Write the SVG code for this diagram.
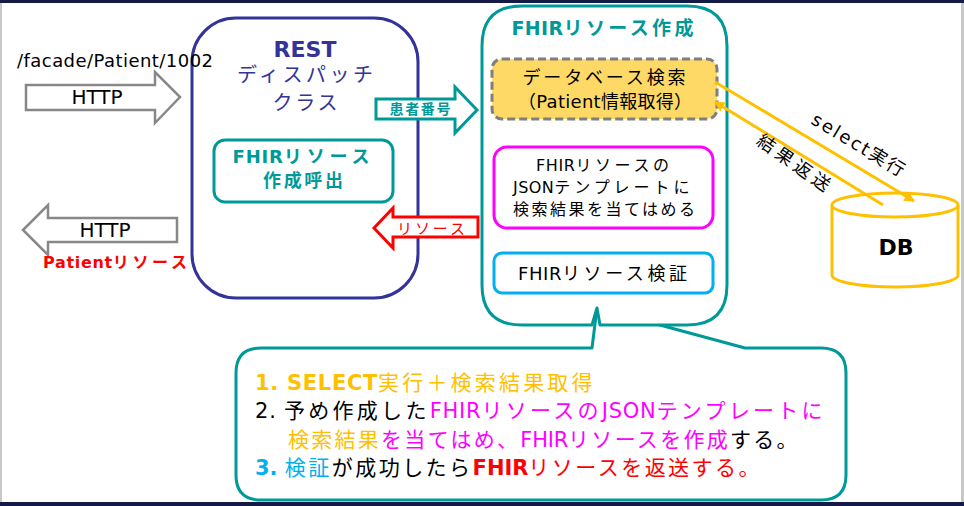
<svg xmlns="http://www.w3.org/2000/svg" width="964" height="506" viewBox="0 0 964 506">
<style>
text{font-family:"DejaVu Sans","Noto Sans CJK JP",sans-serif;}
.b{font-weight:bold;}
.c{text-anchor:middle;}
.teal{fill:#009999;}
.navy{fill:#333399;}
.gold{fill:#FFC000;}
.mag{fill:#FF00FF;}
.cyan{fill:#00B0F0;}
.red{fill:#FF0000;}
.blk{fill:#000;}
.j25{letter-spacing:2.5px;}
.j3{letter-spacing:3px;}
.j35{letter-spacing:3.5px;}
.j4{letter-spacing:4px;}
</style>
<defs>
<marker id="ah" viewBox="0 0 10 10" refX="9" refY="5" markerWidth="3.5" markerHeight="3.5" orient="auto-start-reverse" markerUnits="strokeWidth">
<path d="M0,0 L10,5 L0,10 z" fill="#FFC000"/>
</marker>
</defs>
<rect width="964" height="506" fill="#fff"/>
<rect x="0" y="0" width="964" height="3" fill="#131A45"/>
<rect x="0" y="502" width="964" height="4" fill="#131A45"/>
<rect x="0" y="3" width="2" height="499" fill="#c8c8c8"/>
<rect x="961" y="3" width="3" height="499" fill="#c8c8c8"/>

<g id="rest">
<rect x="192" y="18" width="226" height="280" rx="44" fill="#fff" stroke="#333399" stroke-width="3"/>
<text x="305" y="57" font-size="22" class="b c navy">REST</text>
<text x="305" y="82" font-size="20" class="c navy" textLength="136" lengthAdjust="spacing">ディスパッチ</text>
<text x="305" y="110" font-size="20" class="c navy" textLength="65" lengthAdjust="spacing">クラス</text>
</g>

<g id="request">
<text x="17" y="67" font-size="18" textLength="196" class="blk">/facade/Patient/1002</text>
<path d="M26,85 H155 V72 L180,97 L155,123 V110 H26 Z" fill="#fff" stroke="#888" stroke-width="2.5"/>
<text x="97" y="104" font-size="20" class="c blk">HTTP</text>
</g>

<g id="response">
<path d="M23,230 L48,205 V218 H177 V242 H48 V255 Z" fill="#fff" stroke="#888" stroke-width="2.5"/>
<text x="105" y="237" font-size="20" class="c blk">HTTP</text>
<text x="43" y="268" font-size="16" class="b red" textLength="147" lengthAdjust="spacing">Patient<tspan class="j3">リソース</tspan></text>
</g>

<g id="call">
<rect x="214" y="140" width="179" height="62" rx="11" fill="#fff" stroke="#009999" stroke-width="3"/>
<text x="303" y="163" font-size="18" class="b c teal" textLength="141" lengthAdjust="spacing">FHIR<tspan class="j4">リソース</tspan></text>
<text x="303" y="187" font-size="18" class="b c teal" textLength="80" lengthAdjust="spacing">作成呼出</text>
</g>

<g id="callout">
<path d="M261,348 H592 L597,308 L745,348 H821 Q846,348 846,373 V475 Q846,500 821,500 H261 Q236,500 236,475 V373 Q236,348 261,348 Z" fill="#fff" stroke="#009999" stroke-width="3" stroke-linejoin="round"/>
<text x="255" y="390" font-size="21" textLength="340" lengthAdjust="spacing"><tspan class="b gold">1. SELECT</tspan><tspan class="gold j25">実行＋検索結果取得</tspan></text>
<text x="255" y="418" font-size="21" textLength="570" lengthAdjust="spacing"><tspan class="blk">2. </tspan><tspan class="blk j25">予め作成した</tspan><tspan class="mag">FHIR</tspan><tspan class="mag j25">リソースの</tspan><tspan class="mag">JSON</tspan><tspan class="mag j25">テンプレートに</tspan></text>
<text x="288" y="447" font-size="21" textLength="512" lengthAdjust="spacing"><tspan class="gold j25">検索結果</tspan><tspan class="mag j25">を当てはめ、</tspan><tspan class="mag">FHIR</tspan><tspan class="mag j25">リソースを作成</tspan><tspan class="blk j25">する。</tspan></text>
<text x="255" y="475" font-size="21" textLength="507" lengthAdjust="spacing"><tspan class="b cyan">3. </tspan><tspan class="cyan j25">検証</tspan><tspan class="blk j25">が成功したら</tspan><tspan class="b red">FHIR</tspan><tspan class="red j25">リソースを返送する。</tspan></text>
</g>

<g id="fhir">
<path d="M522,6 H687 Q727,6 727,46 V285 Q727,325 687,325 H600 L597,308 L592,325 H522 Q482,325 482,285 V46 Q482,6 522,6 Z" fill="#fff" stroke="#009999" stroke-width="3" stroke-linejoin="round"/>
<text x="604" y="35" font-size="19" class="b c teal" textLength="185" lengthAdjust="spacing">FHIR<tspan class="j3">リソース作成</tspan></text>
</g>

<g id="dbsearch">
<rect x="492" y="59" width="225" height="60" rx="10" fill="#FFD966" stroke="#7F7F7F" stroke-width="3" stroke-dasharray="8,4"/>
<text x="604" y="84" font-size="18" class="c blk" textLength="163" lengthAdjust="spacing">データベース検索</text>
<text x="605" y="108" font-size="18" class="c blk" textLength="174" lengthAdjust="spacing">（Patient情報取得）</text>
</g>

<g id="template">
<rect x="494" y="147" width="219" height="81" rx="13" fill="#fff" stroke="#FF00FF" stroke-width="3"/>
<text x="604" y="171" font-size="16" class="c blk" textLength="136" lengthAdjust="spacing">FHIR<tspan class="j3">リソースの</tspan></text>
<text x="603" y="193" font-size="16" class="c blk" textLength="180" lengthAdjust="spacing">JSON<tspan class="j35">テンプレートに</tspan></text>
<text x="604" y="215" font-size="16" class="c blk" textLength="182" lengthAdjust="spacing">検索結果を当てはめる</text>
</g>

<g id="validate">
<rect x="494" y="253" width="219" height="40" rx="8" fill="#fff" stroke="#00B0F0" stroke-width="3"/>
<text x="604" y="280" font-size="18" class="c blk" textLength="172" lengthAdjust="spacing">FHIR<tspan class="j3">リソース検証</tspan></text>
</g>

<g id="db">
<path d="M832,205 V275 A63,12 0 0 0 958,275 V205" fill="#fff" stroke="#FFC000" stroke-width="3"/>
<ellipse cx="895" cy="205" rx="63" ry="12" fill="#fff" stroke="#FFC000" stroke-width="3"/>
<text x="896" y="255" font-size="22" class="b c blk">DB</text>
</g>

<g id="connectors">
<path d="M376,99 H455 V87 L477,110 L455,133 V119 H376 Z" fill="#fff" stroke="#009999" stroke-width="3"/>
<text x="420" y="114" font-size="14" class="b c teal" textLength="61" lengthAdjust="spacing">患者番号</text>
<path d="M374,228 L393,208 V217 H478 V237 H393 V248 Z" fill="#fff" stroke="#FF0000" stroke-width="3"/>
<text x="431" y="234" font-size="15" class="c red" textLength="68" lengthAdjust="spacing">リソース</text>
<line x1="715" y1="82" x2="914" y2="201" stroke="#FFC000" stroke-width="3" marker-end="url(#ah)"/>
<line x1="883" y1="205" x2="715" y2="102" stroke="#FFC000" stroke-width="3" marker-end="url(#ah)"/>
<text x="855" y="150" font-size="18" class="c blk" transform="rotate(31 855 150)" textLength="105" lengthAdjust="spacing">select実行</text>
<text x="790" y="168" font-size="18" class="c blk" transform="rotate(35 790 168)" textLength="85" lengthAdjust="spacing">結果返送</text>
</g>
</svg>
